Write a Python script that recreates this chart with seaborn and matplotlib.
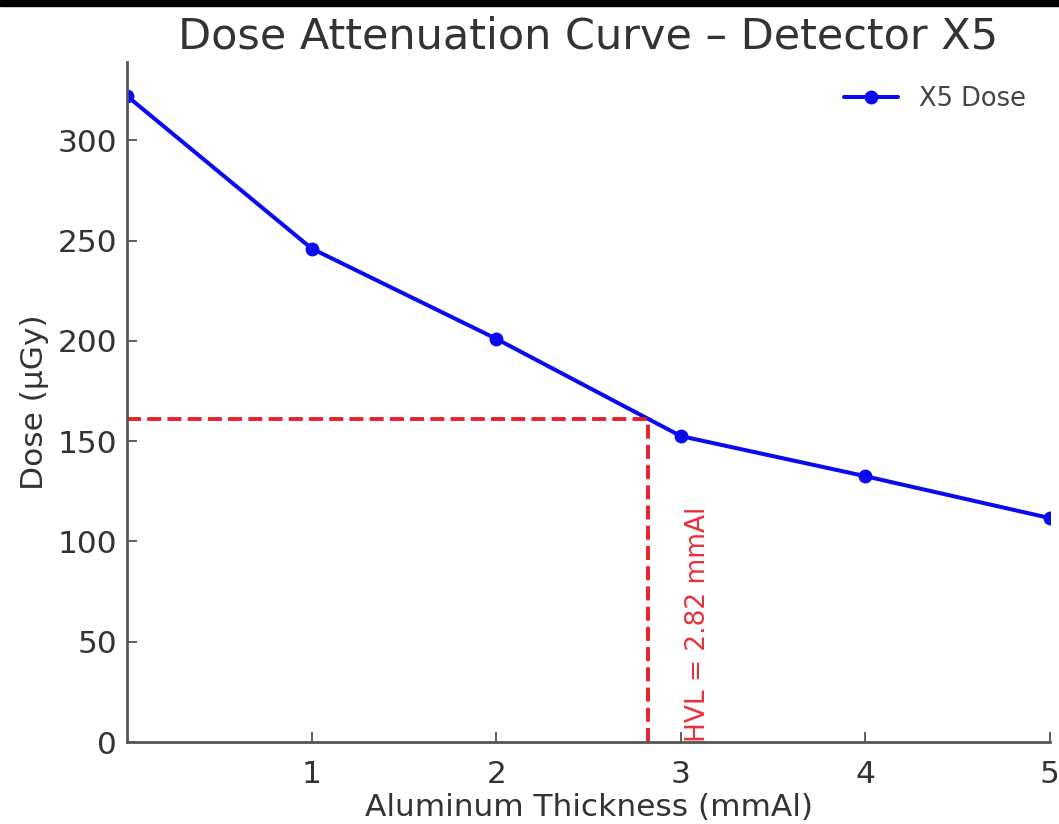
import numpy as np
import pandas as pd
import matplotlib
matplotlib.use("Agg")
import matplotlib.pyplot as plt
import seaborn as sns
from matplotlib.patches import Rectangle

# Measured dose vs aluminium filter thickness
thickness = [0, 1, 2, 3, 4, 5]
dose = [322, 246, 201, 152.5, 132.5, 111.6]
hvl = 2.82
half_dose = dose[0] / 2
x_ticks = [1, 2, 3, 4, 5]
y_ticks = [0, 50, 100, 150, 200, 250, 300]

sns.set_style("ticks")
plt.rcParams['font.family'] = ['DejaVu Sans']

df = pd.DataFrame({"Thickness": thickness, "Dose": dose})

fig = plt.figure(figsize=(10.59, 8.24), dpi=100)
ax = fig.add_axes([0.12, 0.0995, 0.8715, 0.8253])

sns.lineplot(data=df, x="Thickness", y="Dose", ax=ax, color="#0a0af0",
             linewidth=2.9, marker="o", markersize=10, markeredgewidth=0,
             label="X5 Dose")

# HVL guide lines
ax.plot([0, hvl], [half_dose, half_dose], color="#e8202a", linestyle="--",
        linewidth=2.8, dashes=(3.6, 1.6))
ax.plot([hvl, hvl], [0, half_dose], color="#e8202a", linestyle="--",
        linewidth=2.8, dashes=(3.6, 1.6))
ax.text(hvl + 0.2, 0, f"HVL = {hvl} mmAl", rotation=90, color="#e8303a",
        fontsize=19, ha="left", va="bottom")

ax.set_xlim(0, 5)
ax.set_ylim(0, 339)
ax.set_xticks(x_ticks)
ax.set_yticks(y_ticks)
ax.tick_params(direction="in", length=7, width=1.2, colors="#444444",
               labelsize=22.5, labelcolor="#333333")
ax.tick_params(axis="x", pad=13)
ax.tick_params(axis="y", pad=7)
for side in ["left", "bottom"]:
    ax.spines[side].set_color("#555555")
    ax.spines[side].set_linewidth(2)
sns.despine(ax=ax)

ax.set_xlabel("Aluminum Thickness (mmAl)", fontsize=22.5, color="#333333", labelpad=3)
ax.set_ylabel("Dose (µGy)", fontsize=22.5, color="#333333", labelpad=6)
ax.set_title("Dose Attenuation Curve – Detector X5", fontsize=31, color="#333333", pad=10)

leg = ax.legend(loc="upper right", frameon=False, fontsize=18.5, handlelength=2.1,
                borderaxespad=0.55)
for t in leg.get_texts():
    t.set_color("#444444")

# black border strip at top of the screenshot
fig.patches.append(Rectangle((0, 0.993), 1, 0.007, transform=fig.transFigure,
                             color="black", zorder=10))

fig.savefig("out.png", dpi=100)
